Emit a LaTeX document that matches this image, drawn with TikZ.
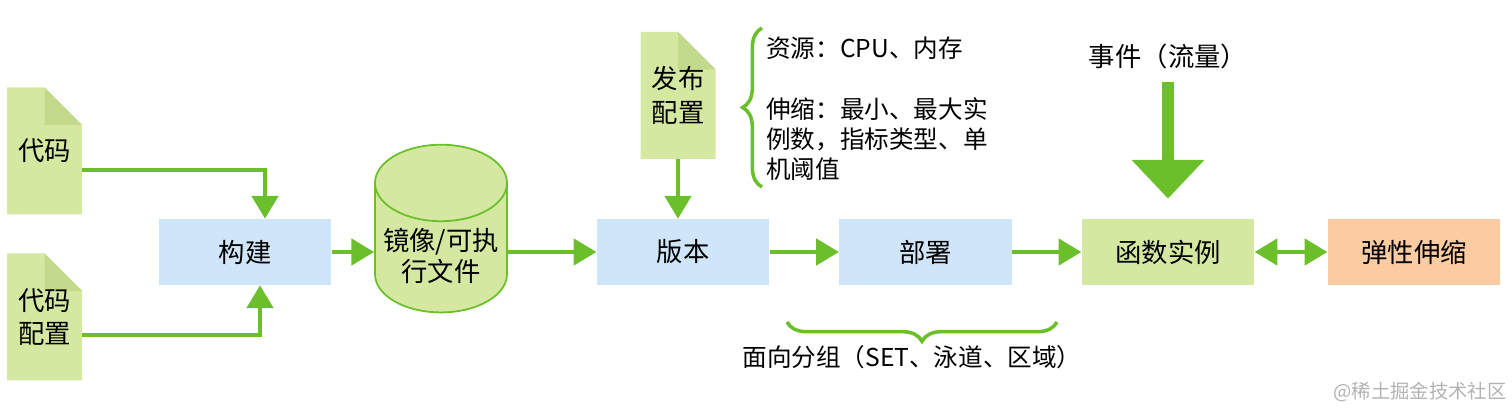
\documentclass[tikz,border=0pt]{standalone}
\usepackage{fontspec}
\setmainfont{Noto Sans CJK SC}
\usetikzlibrary{calc}
\usetikzlibrary{arrows.meta}
\usetikzlibrary{shapes.geometric}
\usetikzlibrary{decorations.pathreplacing}
\definecolor{flowgreen}{HTML}{6ABF2A}
\definecolor{docgreen}{HTML}{D5E8A2}
\definecolor{foldgreen}{HTML}{C3D98B}
\definecolor{stepblue}{HTML}{CFE5FA}
\definecolor{scaleorange}{HTML}{FBCBA2}
\tikzset{%
  tip/.style={-{Triangle[length=13pt,width=15pt]}},
  flow/.style={draw=flowgreen, line width=2.2pt, tip},
  stage/.style={rectangle, minimum width=3.45cm, minimum height=1.32cm, inner sep=0pt, font=\fontsize{15}{18}\selectfont},
  doc/.style={rectangle, minimum width=1.5cm, minimum height=2.54cm, inner sep=0pt, align=left,
    font=\fontsize{15}{19}\selectfont,
    path picture={
      \fill[docgreen] (path picture bounding box.south west) |- ($(path picture bounding box.north east)+(-0.75,0)$)
        -- ($(path picture bounding box.north east)+(0,-0.75)$) |- cycle;
      \fill[foldgreen] ($(path picture bounding box.north east)+(-0.75,0)$) -- ($(path picture bounding box.north east)+(0,-0.75)$)
        -- ($(path picture bounding box.north east)+(-0.75,-0.75)$) -- cycle;}},
  mybrace/.style={draw=flowgreen, line width=2pt, decorate, decoration={brace, amplitude=11pt}},
  note/.style={anchor=west, font=\fontsize{14}{17}\selectfont, align=left}
}
\begin{document}
\begin{tikzpicture}
  \useasboundingbox (0,0) rectangle (30.24,8.34);
  % sources
  \node[doc] (code) at (0.89,5.32) {代码};
  \node[doc] (codecfg) at (0.89,2.0) {代码\\配置};
  \node[doc] (relcfg) at (13.56,6.43) {发布\\配置};
  % pipeline
  \node[stage, fill=stepblue] (build) at (4.9,3.3) {构建};
  \node[cylinder, shape border rotate=90, aspect=0.6, draw=flowgreen, line width=1pt, fill=docgreen,
    minimum width=2.64cm, minimum height=3.26cm, align=center, font=\fontsize{15}{18}\selectfont] (image) at (8.82,3.22) {镜像/可执\\行文件};
  \node[stage, fill=stepblue] (version) at (13.66,3.3) {版本};
  \node[stage, fill=stepblue] (deploy) at (18.51,3.3) {部署};
  \node[stage, fill=docgreen] (instance) at (23.36,3.3) {函数实例};
  \node[stage, fill=scaleorange] (autoscale) at (28.28,3.3) {弹性伸缩};
  \node[font=\fontsize{15}{18}\selectfont] (event) at (23.36,7.22) {事件（流量）};
  % notes
  \node[note] (res) at (15.2,7.38) {资源：CPU、内存};
  \node[note] (scale) at (15.2,5.56) {伸缩：最小、最大实\\例数，指标类型、单\\机阈值};
  \node[font=\fontsize{14}{17}\selectfont] (group) at (18.24,1.2) {面向分组（SET、泳道、区域）};
  \node[text=gray!60, font=\fontsize{11}{13}\selectfont] (mark) at (28.4,0.5) {@稀土掘金技术社区};
  % connectors
  \draw[flow] (code.east |- 0,4.94) -| ([xshift=0.4cm]build.north);
  \draw[flow] (codecfg.east |- 0,1.64) -| ([xshift=0.3cm]build.south);
  \draw[flow] (build.east) -- (build.east -| image.west);
  \draw[flow] (image.east |- version.west) -- (version.west);
  \draw[flow] (relcfg.south) -- (relcfg.south |- version.north);
  \draw[flow] (version.east) -- (deploy.west);
  \draw[flow] (deploy.east) -- (instance.west);
  \draw[flow, {Triangle[length=13pt,width=15pt]}-{Triangle[length=13pt,width=15pt]}] (instance.east) -- (autoscale.west);
  \draw[draw=flowgreen, line width=7pt, -{Triangle[length=22pt,width=40pt]}] ([yshift=-0.15cm]event.south) -- ([yshift=0.4cm]instance.north);
  % braces
  \draw[mybrace] (15.24,4.6) -- (15.24,7.78);
  \draw[mybrace] (21.14,1.9) -- (15.74,1.9);
\end{tikzpicture}
\end{document}
